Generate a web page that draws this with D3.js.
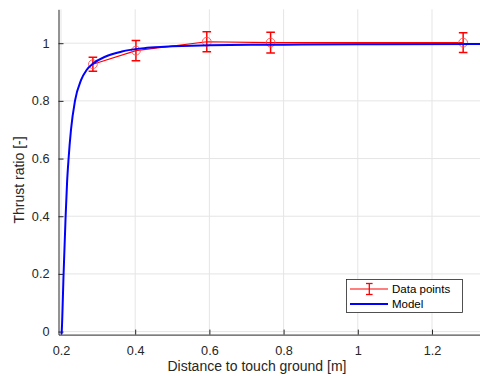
<!DOCTYPE html>
<html><head><meta charset="utf-8">
<script src="https://cdn.jsdelivr.net/npm/d3@7"></script>
<style>body{margin:0;background:#fff}svg{display:block;font-family:"Liberation Sans",Arial,sans-serif}</style>
</head><body><svg id="c" width="480" height="376"></svg>
<script>
const dataX = [0.286, 0.402, 0.593, 0.765, 1.284];
const dataY = [0.927, 0.974, 1.005, 1.002, 1.002];
const dataErr = [0.024, 0.035, 0.035, 0.036, 0.034];
const modelX = [0.2015, 0.202, 0.207, 0.2125, 0.2165, 0.2205, 0.227, 0.2377, 0.254, 0.269, 0.287, 0.319, 0.364, 0.417, 0.453, 0.5, 0.6, 0.8, 1.0, 1.35];
const modelY = [-0.01, 0, 0.2, 0.4, 0.52, 0.6, 0.7, 0.8, 0.872, 0.907, 0.930, 0.953, 0.971, 0.982, 0.986, 0.989, 0.993, 0.995, 0.996, 0.997];
const xTicks = [0.2, 0.4, 0.6, 0.8, 1, 1.2];
const yTicks = [0, 0.2, 0.4, 0.6, 0.8, 1];
const seriesNames = ["Data points", "Model"];

const svg = d3.select("#c");
const L = 58.5, R = 488, T = 9.3, B = 334.6;
const x = d3.scaleLinear().domain([0.1933, 0.1933 + (R - L) / 371]).range([L, R]);
const y = d3.scaleLinear().domain([-0.0104, 1.1175]).range([B, T]);
const axisCol = "#262626";

svg.append("defs").append("clipPath").attr("id", "clip")
  .append("rect").attr("x", L).attr("y", T).attr("width", R - L).attr("height", B - T);

// grid
const g = svg.append("g");
g.selectAll(".gx").data(xTicks).join("line")
  .attr("x1", d => x(d)).attr("x2", d => x(d)).attr("y1", T).attr("y2", B)
  .attr("stroke", "#e5e5e5").attr("stroke-width", 1);
g.selectAll(".gy").data(yTicks).join("line")
  .attr("x1", L).attr("x2", R).attr("y1", d => y(d)).attr("y2", d => y(d))
  .attr("stroke", "#e5e5e5").attr("stroke-width", 1);

// axes
const xAxis = d3.axisBottom(x).tickValues(xTicks).tickSizeInner(-5).tickSizeOuter(0).tickPadding(11)
  .tickFormat(d => d3.format("~g")(d));
const yAxis = d3.axisLeft(y).tickValues(yTicks).tickSizeInner(-5).tickSizeOuter(0).tickPadding(9)
  .tickFormat(d => d3.format("~g")(d));
const gx = svg.append("g").attr("transform", `translate(0,${B})`).call(xAxis);
const gy = svg.append("g").attr("transform", `translate(${L},0)`).call(yAxis);
[gx, gy].forEach(a => {
  a.select(".domain").attr("stroke", axisCol).attr("stroke-width", 1);
  a.selectAll(".tick line").attr("stroke", axisCol).attr("stroke-width", 1);
  a.selectAll(".tick text").attr("fill", axisCol).attr("font-size", 12.7).attr("font-family", "Liberation Sans, Arial, sans-serif");
});

// labels
svg.append("text").attr("x", 257).attr("y", 370.5).attr("text-anchor", "middle")
  .attr("font-size", 14).attr("fill", axisCol).text("Distance to touch ground [m]");
svg.append("text").attr("transform", "translate(24,180) rotate(-90)").attr("text-anchor", "middle")
  .attr("font-size", 14).attr("fill", axisCol).text("Thrust ratio [-]");

const plot = svg.append("g").attr("clip-path", "url(#clip)");
const pts = dataX.map((d, i) => ({x: d, y: dataY[i], e: dataErr[i]}));

// data line
plot.append("path").datum(pts)
  .attr("d", d3.line().x(d => x(d.x)).y(d => y(d.y)))
  .attr("fill", "none").attr("stroke", "#ff0000").attr("stroke-width", 1.2);
// error bars
const eb = plot.selectAll(".eb").data(pts).join("g").attr("stroke", "#ff0000").attr("stroke-width", 1.5);
eb.append("line").attr("x1", d => x(d.x)).attr("x2", d => x(d.x)).attr("y1", d => y(d.y + d.e)).attr("y2", d => y(d.y - d.e));
eb.append("line").attr("x1", d => x(d.x) - 4.3).attr("x2", d => x(d.x) + 4.3).attr("y1", d => y(d.y + d.e)).attr("y2", d => y(d.y + d.e));
eb.append("line").attr("x1", d => x(d.x) - 4.3).attr("x2", d => x(d.x) + 4.3).attr("y1", d => y(d.y - d.e)).attr("y2", d => y(d.y - d.e));
plot.selectAll(".mk").data(pts).join("circle")
  .attr("cx", d => x(d.x)).attr("cy", d => y(d.y)).attr("r", 4.4)
  .attr("fill", "none").attr("stroke", "#ff5050").attr("stroke-width", 0.9);

// model
const model = modelX.map((d, i) => ({x: d, y: modelY[i]}));
plot.append("path").datum(model)
  .attr("d", d3.line().x(d => x(d.x)).y(d => y(d.y)).curve(d3.curveMonotoneX))
  .attr("fill", "none").attr("stroke", "#0000ff").attr("stroke-width", 2);

// legend
const lg = svg.append("g");
lg.append("rect").attr("x", 346.5).attr("y", 279.5).attr("width", 116).attr("height", 33)
  .attr("fill", "#fff").attr("stroke", axisCol).attr("stroke-width", 0.8);
const ly = [289, 304];
lg.append("line").attr("x1", 350).attr("x2", 388).attr("y1", ly[0]).attr("y2", ly[0]).attr("stroke", "#ff0000").attr("stroke-width", 1.2);
lg.append("line").attr("x1", 369.3).attr("x2", 369.3).attr("y1", 283.5).attr("y2", 294.5).attr("stroke", "#ff0000").attr("stroke-width", 1.3);
lg.append("line").attr("x1", 366).attr("x2", 372.6).attr("y1", 283.5).attr("y2", 283.5).attr("stroke", "#ff0000").attr("stroke-width", 1.3);
lg.append("line").attr("x1", 366).attr("x2", 372.6).attr("y1", 294.5).attr("y2", 294.5).attr("stroke", "#ff0000").attr("stroke-width", 1.3);
lg.append("line").attr("x1", 350).attr("x2", 388).attr("y1", ly[1]).attr("y2", ly[1]).attr("stroke", "#0000ff").attr("stroke-width", 2);
lg.selectAll(".lt").data(seriesNames).join("text")
  .attr("x", 392).attr("y", (d, i) => ly[i] + 4).attr("font-size", 11.5).attr("fill", "#000").text(d => d);
</script></body></html>
